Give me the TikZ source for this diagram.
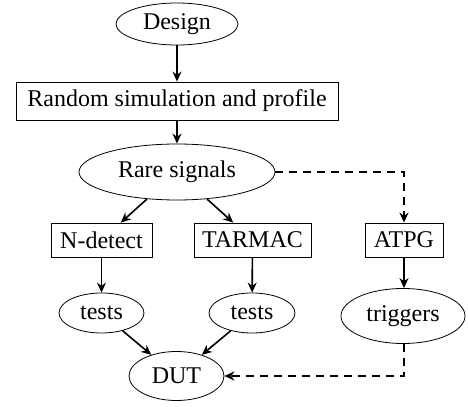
\documentclass[tikz,border=0pt]{standalone}
\usepackage{fontspec}
\setmainfont{Liberation Serif}
\usetikzlibrary{shapes.geometric,arrows.meta}
\begin{document}
\begin{tikzpicture}[x=0.5pt,y=-0.5pt,
  font=\fontsize{12}{14}\selectfont,
  ell/.style={draw,ellipse,inner sep=0pt,line width=0.4pt},
  box/.style={draw,rectangle,inner sep=0pt,line width=0.4pt},
  arr/.style={thick,-{Stealth[length=5pt,width=4.5pt]}},
  darr/.style={arr,dash pattern=on 4pt off 3pt}]
\useasboundingbox (0,0) rectangle (468,407);
\node[ell,minimum width=61pt,minimum height=21pt] (design) at (177,24) {Design};
\node[box,minimum width=161pt,minimum height=19pt] (random) at (177,101) {Random simulation and profile};
\node[ell,minimum width=98pt,minimum height=28pt] (rare) at (177,172) {Rare signals};
\node[box,minimum width=50.5pt,minimum height=17pt] (nd) at (101.5,240) {N-detect};
\node[box,minimum width=58.5pt,minimum height=17pt] (tar) at (252.5,240) {TARMAC};
\node[box,minimum width=39pt,minimum height=17pt] (atpg) at (404,240) {ATPG};
\node[ell,minimum width=42.5pt,minimum height=20pt] (t1) at (101.5,313) {tests};
\node[ell,minimum width=43pt,minimum height=20pt] (t2) at (252,313) {tests};
\node[ell,minimum width=62pt,minimum height=27.5pt] (trig) at (403,316) {triggers};
\node[ell,minimum width=47.5pt,minimum height=24.5pt] (dut) at (176.5,376) {DUT};
\draw[arr] (design) -- (random);
\draw[arr] (random) -- (rare);
\draw[arr] (rare) -- (nd);
\draw[arr] (rare) -- (tar);
\draw[darr] (rare.east) -| (atpg.north);
\draw[arr] (nd) -- (t1);
\draw[arr] (tar) -- (t2);
\draw[arr] (atpg) -- (atpg|-trig.north);
\draw[arr] (t1) -- (dut);
\draw[arr] (t2) -- (dut);
\draw[darr] (atpg|-trig.south) |- (dut.east);
\end{tikzpicture}
\end{document}
